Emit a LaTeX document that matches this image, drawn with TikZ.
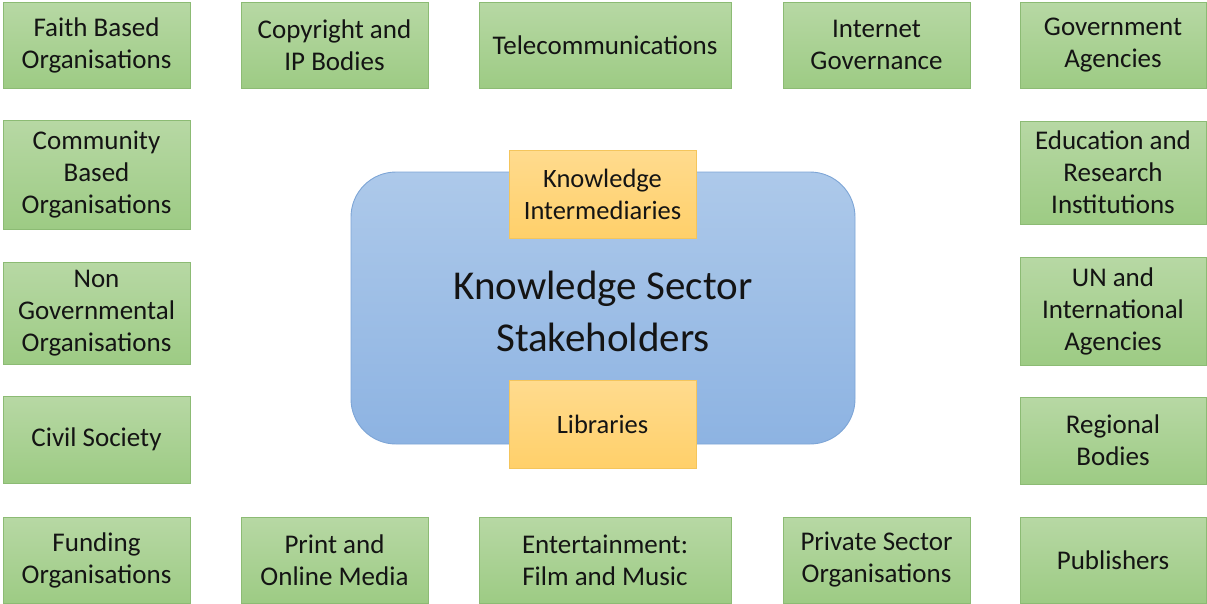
\documentclass[tikz,border=0pt]{standalone}
\usepackage{fontspec}
\setmainfont{Carlito}
\definecolor{greentop}{HTML}{B7D8A4}
\definecolor{greenbot}{HTML}{9DCB84}
\definecolor{greenline}{HTML}{8CBB74}
\definecolor{bluetop}{HTML}{ADC9EA}
\definecolor{bluebot}{HTML}{8DB3E2}
\definecolor{blueline}{HTML}{7DA5D6}
\definecolor{goldtop}{HTML}{FFDB8E}
\definecolor{goldbot}{HTML}{FFD06A}
\definecolor{goldline}{HTML}{F4C55C}
\definecolor{inktext}{HTML}{141414}
\tikzset{
    stakeholder/.style={draw=greenline, line width=0.9pt, top color=greentop, bottom color=greenbot,
        text=inktext, align=center, inner sep=0pt, font=\fontsize{27}{32}\selectfont},
    intermediary/.style={draw=goldline, line width=0.9pt, top color=goldtop, bottom color=goldbot,
        text=inktext, align=center, inner sep=0pt, minimum width=187pt, minimum height=88pt,
        font=\fontsize{26.5}{32}\selectfont},
    sector/.style={draw=blueline, line width=0.9pt, top color=bluetop, bottom color=bluebot,
        rounded corners=45pt, inner sep=0pt, minimum width=504pt, minimum height=272pt}
}
\begin{document}
\begin{tikzpicture}[x=1pt,y=-1pt]
        \useasboundingbox (0,0) rectangle (1207,603);

        % Central sector box
        \node[sector] (sector) at (603,308) {};
        \node[text=inktext, align=center, font=\fontsize{41}{52}\selectfont] (title) at (603,311) {Knowledge Sector\\Stakeholders};
        \node[intermediary] (intermed) at (602.5,194) {Knowledge\\Intermediaries};
        \node[intermediary] (libraries) at (602.5,424) {Libraries};

        % Top row
        \node[stakeholder, minimum width=187pt, minimum height=86pt] (faith) at (96.5,45) {Faith Based\\Organisations};
        \node[stakeholder, minimum width=187pt, minimum height=86pt] (copyright) at (334.5,45) {Copyright and\\IP Bodies};
        \node[stakeholder, minimum width=252pt, minimum height=86pt] (telecom) at (605,45) {Telecommunications};
        \node[stakeholder, minimum width=187pt, minimum height=86pt] (internet) at (876.5,45) {Internet\\Governance};
        \node[stakeholder, minimum width=186pt, minimum height=86pt] (government) at (1113,45) {Government\\Agencies};

        % Left column
        \node[stakeholder, minimum width=187pt, minimum height=109pt] (community) at (96.5,174.5) {Community\\Based\\Organisations};
        \node[stakeholder, minimum width=187pt, minimum height=102pt] (nongov) at (96.5,313) {Non\\Governmental\\Organisations};
        \node[stakeholder, minimum width=187pt, minimum height=87pt] (civil) at (96.5,439.5) {Civil Society};

        % Right column
        \node[stakeholder, minimum width=186pt, minimum height=103pt] (education) at (1113,172.5) {Education and\\Research\\Institutions};
        \node[stakeholder, minimum width=186pt, minimum height=108pt] (unagencies) at (1113,311) {UN and\\International\\Agencies};
        \node[stakeholder, minimum width=186pt, minimum height=87pt] (regional) at (1113,440.5) {Regional\\Bodies};

        % Bottom row
        \node[stakeholder, minimum width=187pt, minimum height=86pt] (funding) at (96.5,560) {Funding\\Organisations};
        \node[stakeholder, minimum width=187pt, minimum height=86pt] (media) at (334.5,560) {Print and\\Online Media};
        \node[stakeholder, minimum width=252pt, minimum height=86pt] (entertain) at (605,560) {Entertainment:\\Film and Music};
        \node[stakeholder, minimum width=187pt, minimum height=86pt] (private) at (876.5,560) {Private Sector\\Organisations};
        \node[stakeholder, minimum width=186pt, minimum height=86pt] (publishers) at (1113,560) {Publishers};
    \end{tikzpicture}
\end{document}
